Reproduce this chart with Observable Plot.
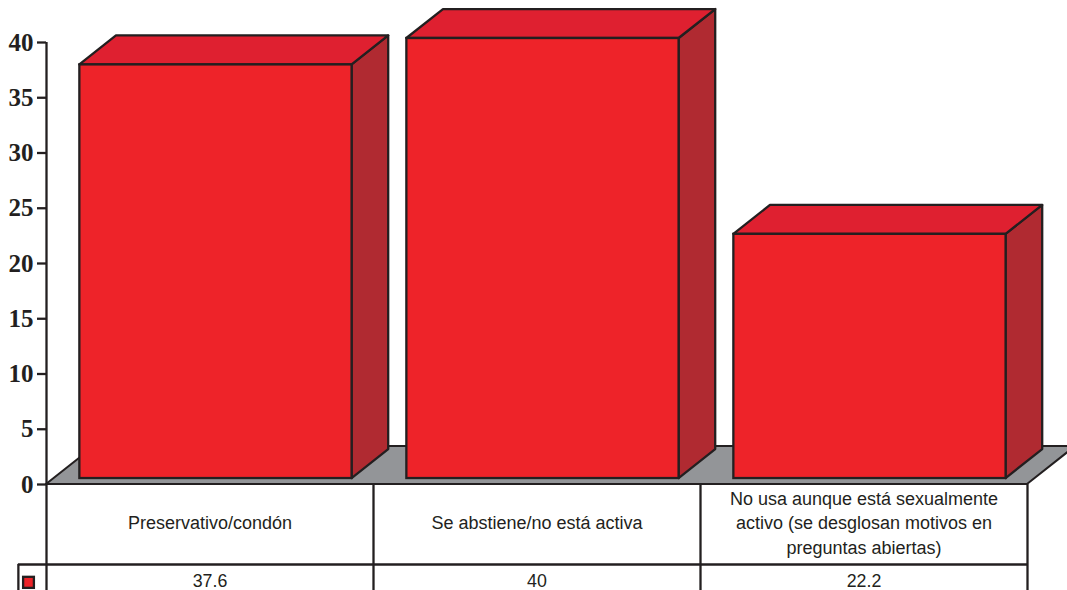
<!DOCTYPE html>
<html>
<head>
<meta charset="utf-8">
<style>
html,body{margin:0;padding:0;background:#fff;overflow:hidden}
svg{display:block}
</style>
<script src="https://cdn.jsdelivr.net/npm/d3@7"></script>
<script src="https://cdn.jsdelivr.net/npm/@observablehq/plot@0.6"></script>
</head>
<body>
<div id="chart"></div>
<script>
const categories = [
  "Preservativo/condón",
  "Se abstiene/no está activa",
  "No usa aunque está sexualmente\nactivo (se desglosan motivos en\npreguntas abiertas)"
];
const values = [37.6, 40, 22.2];
const valueLabels = ["37.6", "40", "22.2"];
const yTicks = [0, 5, 10, 15, 20, 25, 30, 35, 40];

const ink = "#231f20", red = "#ee2329", topRed = "#df2030", sideRed = "#b02a31", floorGrey = "#939598";
const lineW = 2.3;

// Pseudo-3D projection, in scale units
const barL = 0.102, barR = 0.9345;  // bar inset inside its category slot
const base = 0.54, k = 0.9955;      // front-face baseline and vertical factor
const dx = 0.112, dy = 2.62;        // depth offset of the bars
const floorDx = 0.147, floorDy = 3.44;
const tableRow = -7.24, tableEnd = -9.7;
const keyL = -0.07, keyR = -0.037, keyT = -8.4, keyB = -9.4;

const bars = values.map((v, i) => ({i, x1: i + barL, x2: i + barR, y1: base, y2: base + v * k}));

const topFaces = bars.flatMap(b => [
  {i: b.i, x1: b.x1, x2: b.x2, y: b.y2},
  {i: b.i, x1: b.x1 + dx, x2: b.x2 + dx, y: b.y2 + dy}
]);
const sideFaces = bars.flatMap(b => [
  {i: b.i, x: b.x2, y1: b.y1, y2: b.y2},
  {i: b.i, x: b.x2 + dx, y1: b.y1 + dy, y2: b.y2 + dy}
]);
const floor = [
  {x1: 0, x2: 3, y: 0},
  {x1: floorDx, x2: 3 + floorDx, y: floorDy}
];
const slotEdges = [0, 1, 2, 3];

const plot = Plot.plot({
  width: 1067,
  height: 590,
  marginLeft: 46,
  marginRight: 40,
  marginTop: 42,
  marginBottom: 106,
  style: {background: "#fff", overflow: "hidden"},
  x: {type: "linear", domain: [0, 3], axis: null},
  y: {domain: [0, 40], axis: null},
  marks: [
    // floor
    Plot.area(floor, {x1: "x1", x2: "x2", y1: "y", y2: "y", fill: floorGrey, stroke: ink, strokeWidth: 2}),
    // bars
    Plot.area(sideFaces, {x1: "x", x2: "x", y1: "y1", y2: "y2", z: "i", fill: sideRed, stroke: ink, strokeWidth: lineW, strokeLinejoin: "round"}),
    Plot.area(topFaces, {x1: "x1", x2: "x2", y1: "y", y2: "y", z: "i", fill: topRed, stroke: ink, strokeWidth: lineW, strokeLinejoin: "round"}),
    Plot.rect(bars, {x1: "x1", x2: "x2", y1: "y1", y2: "y2", fill: red, stroke: ink, strokeWidth: lineW}),
    // y axis
    Plot.ruleX([0], {y1: 0, y2: 40, stroke: ink, strokeWidth: lineW}),
    Plot.axisY({
      ticks: yTicks, label: null, tickSize: 9, tickPadding: 4, color: ink, strokeWidth: lineW,
      fontFamily: "Liberation Serif", fontSize: 25, fontWeight: "bold"
    }),
    // data table
    Plot.ruleX(slotEdges, {y1: 0, y2: tableEnd, stroke: ink, strokeWidth: lineW}),
    Plot.ruleY([tableRow], {x1: keyL - 0.016, x2: 3, stroke: ink, strokeWidth: lineW}),
    Plot.ruleX([keyL - 0.016], {y1: tableRow, y2: tableEnd, stroke: ink, strokeWidth: lineW}),
    Plot.rect([0], {x1: keyL, x2: keyR, y1: keyT, y2: keyB, fill: red, stroke: ink, strokeWidth: lineW}),
    Plot.text(categories, {
      x: (d, i) => i + 0.5, y: -3.45, text: d => d, lineAnchor: "middle", lineHeight: 1.36,
      fontFamily: "Liberation Sans", fontSize: 18, fill: ink, dy: -1
    }),
    Plot.text(valueLabels, {
      x: (d, i) => i + 0.5, y: -8.8, text: d => d, lineAnchor: "middle",
      fontFamily: "Liberation Sans", fontSize: 17.8, fill: ink
    })
  ]
});
document.getElementById("chart").append(plot);
</script>
</body>
</html>
